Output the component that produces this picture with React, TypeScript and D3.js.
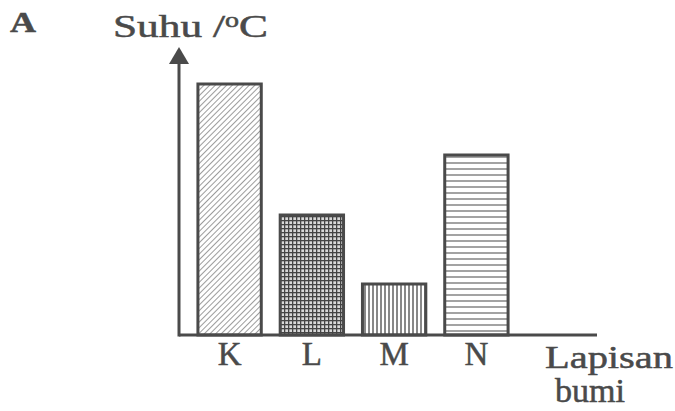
import React from "react";
import * as d3 from "d3";

const categories = ["K", "L", "M", "N"];
const values = [251, 120, 51, 180];
const patterns = ["diag", "grid", "vert", "horiz"];
const yLabel = "Suhu /";
const xLabelLines = ["Lapisan", "bumi"];
const panelLabel = "A";

const W = 675;
const H = 411;
const INK = "#4a4a4a";

export default function App() {
  const x0 = 179;
  const baseY = 335;
  const x = d3
    .scaleBand<string>()
    .domain(categories)
    .range([x0, 527])
    .paddingInner(0.23)
    .paddingOuter(0.23);
  const y = d3.scaleLinear().domain([0, 288]).range([baseY, 47]);

  const textStyle = { fill: INK, stroke: INK, strokeWidth: 0.5 };

  return (
    <svg
      width={W}
      height={H}
      style={{ position: "absolute", left: 0, top: 0, background: "#fff" }}
      fontFamily="'Liberation Serif', 'DejaVu Serif', serif"
    >
      <defs>
        <pattern id="diag" width="4" height="4" patternUnits="userSpaceOnUse" patternTransform="rotate(45)">
          <rect width="4" height="4" fill="#fff" />
          <line x1="0" y1="0" x2="0" y2="4" stroke="#666" strokeWidth="1.3" />
        </pattern>
        <pattern id="grid" width="4" height="4" patternUnits="userSpaceOnUse">
          <rect width="4" height="4" fill="#d8d8d8" />
          <line x1="0" y1="0.5" x2="4" y2="0.5" stroke="#444" strokeWidth="1.6" />
          <line x1="0.5" y1="0" x2="0.5" y2="4" stroke="#444" strokeWidth="1.6" />
        </pattern>
        <pattern id="vert" width="4" height="4" patternUnits="userSpaceOnUse">
          <rect width="4" height="4" fill="#fff" />
          <line x1="1" y1="0" x2="1" y2="4" stroke="#555" strokeWidth="1.4" />
        </pattern>
        <pattern id="horiz" width="6" height="6" patternUnits="userSpaceOnUse">
          <rect width="6" height="6" fill="#fff" />
          <line x1="0" y1="1" x2="6" y2="1" stroke="#666" strokeWidth="1.2" />
        </pattern>
      </defs>

      <text x={10} y={32} fontSize={29} fontWeight="bold" style={textStyle} textLength={26} lengthAdjust="spacingAndGlyphs">
        {panelLabel}
      </text>
      <text x={113} y={37} fontSize={31} style={textStyle} textLength={155} lengthAdjust="spacingAndGlyphs">
        {yLabel}
        <tspan dy={-10} fontSize={20}>o</tspan>
        <tspan dy={10}>C</tspan>
      </text>

      {categories.map((c, i) => (
        <rect
          key={c}
          x={x(c)!}
          y={y(values[i])}
          width={x.bandwidth()}
          height={baseY - y(values[i])}
          fill={`url(#${patterns[i]})`}
          stroke={INK}
          strokeWidth={3}
        />
      ))}

      <line x1={x0} y1={baseY} x2={597} y2={baseY} stroke={INK} strokeWidth={3} />
      <line x1={x0} y1={baseY + 1.5} x2={x0} y2={60} stroke={INK} strokeWidth={3} />
      <path d={`M${x0},47 L${x0 - 10},64 L${x0 + 10},64 Z`} fill={INK} />

      {categories.map((c) => (
        <text
          key={c}
          x={x(c)! + x.bandwidth() / 2}
          y={365}
          fontSize={33}
          textAnchor="middle"
          style={textStyle}
        >
          {c}
        </text>
      ))}

      <text x={545} y={368} fontSize={32} style={textStyle} textLength={128} lengthAdjust="spacingAndGlyphs">
        {xLabelLines[0]}
      </text>
      <text x={555} y={402} fontSize={33} style={textStyle} textLength={70} lengthAdjust="spacingAndGlyphs">
        {xLabelLines[1]}
      </text>
    </svg>
  );
}
